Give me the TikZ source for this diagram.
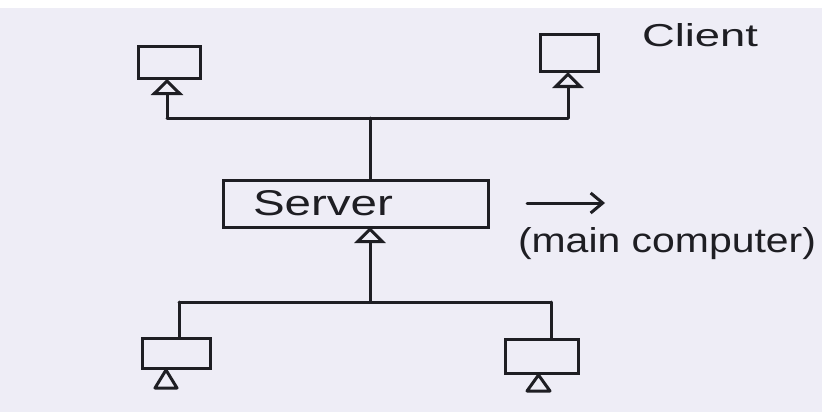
\documentclass[tikz,border=0pt]{standalone}
\usepackage{fontspec}
\setmainfont{Liberation Sans}
\usepackage{graphicx}
\usetikzlibrary{arrows.meta}
\definecolor{paper}{RGB}{238,237,246}
\definecolor{ink}{RGB}{30,30,35}
\tikzset{
  wire/.style={draw=ink, line width=3pt, line cap=round},
  monitor/.style={draw=ink, line width=3pt, minimum width=#1, inner sep=0pt, outer sep=0pt},
  uptip/.style={wire, -{Triangle[open, width=#1, length=16pt]}},
  hand/.style={inner sep=0pt, outer sep=0pt, text=ink, anchor=base west},
}
\begin{document}
\begin{tikzpicture}[x=1pt, y=-1pt]
  \path[fill=paper] (0,0) rectangle (822,412);
  \path[fill=white] (0,0) rectangle (822,8);
  \useasboundingbox (0,0) rectangle (822,412);

  % client monitors (top)
  \node[monitor=62pt, minimum height=32pt] (tl) at (169,63) {};
  \node[monitor=58pt, minimum height=37pt] (tr) at (569,53.5) {};
  % server
  \node[monitor=265pt, minimum height=47pt] (srv) at (355.5,203.5) {};
  \node[hand] (srvtext) at (253,215) {\resizebox{140pt}{25pt}{Server}};
  % client monitors (bottom)
  \node[monitor=68pt, minimum height=30pt] (bl) at (176,353) {};
  \node[monitor=73pt, minimum height=34pt] (br) at (541.5,356) {};

  % labels
  \node[hand] (client) at (642,47) {\resizebox{116pt}{23pt}{Client}};
  \node[hand] (maincomp) at (518,252) {\resizebox{298pt}{25pt}{(main computer)}};

  % top bus
  \coordinate (bustl) at (167,118);
  \coordinate (bustr) at (568,118);
  \coordinate (srvtop) at (370,118);
  \draw[wire] (bustl) -- (bustr);
  \draw[uptip=32pt] (bustl) -- (bustl |- tl.south);
  \draw[uptip=31pt] (bustr) -- (bustr |- tr.south);
  \draw[wire] (srvtop) -- (srvtop |- srv.north);

  % bottom bus
  \coordinate (busbl) at (179,302);
  \coordinate (busbr) at (551,302);
  \coordinate (srvbot) at (370,302);
  \draw[wire] (busbl) -- (busbr);
  \draw[uptip=31pt] (srvbot) -- (srvbot |- srv.south);
  \draw[wire] (busbl) -- (busbl |- bl.north);
  \draw[wire] (busbr) -- (busbr |- br.north);

  % stands under bottom monitors
  \draw[wire, line join=round] ([xshift=-21pt,yshift=-50pt]bl.north) -- ([xshift=-10pt,yshift=-32pt]bl.north)
     -- ([xshift=1pt,yshift=-50pt]bl.north) -- cycle;
  \draw[wire, line join=round] ([xshift=-14.5pt,yshift=-52pt]br.north) -- ([xshift=-3pt,yshift=-36pt]br.north)
     -- ([xshift=8.5pt,yshift=-52pt]br.north) -- cycle;

  % arrow to label
  \coordinate (arrs) at (527,203);
  \coordinate (arre) at (605,203);
  \draw[wire, -{Straight Barb[length=12pt, width=20pt]}] (arrs) -- (arre);
\end{tikzpicture}
\end{document}
